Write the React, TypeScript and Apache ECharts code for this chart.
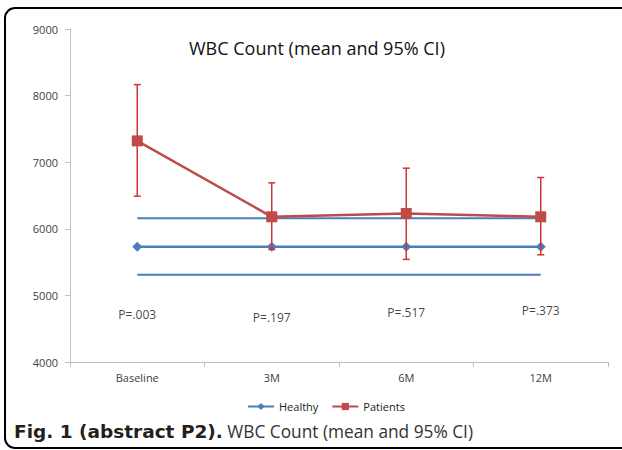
import React, { useEffect, useRef } from "react";
import * as echarts from "echarts";

const categories = ["Baseline", "3M", "6M", "12M"];
const healthyMean = [5730, 5730, 5730, 5730];
const healthyUpper = [6160, 6160, 6160, 6160];
const healthyLower = [5310, 5310, 5310, 5310];
const patientsMean = [7320, 6180, 6230, 6180];
const patientsLow = [6490, 5690, 5540, 5610];
const patientsHigh = [8165, 6690, 6910, 6770];
const pLabels = ["P=.003", "P=.197", "P=.517", "P=.373"];
const pLabelY = [4720, 4675, 4750, 4780];
const yTicks = { min: 4000, max: 9000, interval: 1000 };
const chartTitle = "WBC Count (mean and 95% CI)";
const captionBold = "Fig. 1 (abstract P2).";
const captionText = " WBC Count (mean and 95% CI)";

const BLUE = "#4A7EBB";
const RED = "#BE4B48";
const ERR = "#D03434";
const FONT = "'Open Sans', 'DejaVu Sans', sans-serif";

export default function App() {
  const ref = useRef<HTMLDivElement>(null);
  useEffect(() => {
    if (!ref.current) return;
    const chart = echarts.init(ref.current, null, { renderer: "svg" });
    const errData = categories.map((_, i) => [i, patientsLow[i], patientsHigh[i]]);
    const pData = categories.map((_, i) => [i, pLabelY[i], pLabels[i]]);
    chart.setOption({
      animation: false,
      backgroundColor: "#fff",
      textStyle: { fontFamily: FONT },
      title: {
        text: chartTitle,
        left: 184,
        top: 34,
        textStyle: { fontFamily: FONT, fontSize: 18, fontWeight: "normal", color: "#111" },
      },
      legend: {
        top: 396,
        left: 242,
        itemWidth: 26,
        itemHeight: 9,
        itemGap: 13,
        data: ["Healthy", "Patients"],
        textStyle: { fontFamily: FONT, fontSize: 11, color: "#222" },
      },
      grid: { left: 70, right: 14, top: 29, bottom: 88 },
      xAxis: {
        type: "category",
        data: categories,
        boundaryGap: true,
        axisLine: { lineStyle: { color: "#BFBFBF", width: 1 } },
        axisTick: { show: true, length: 5, lineStyle: { color: "#BFBFBF" } },
        axisLabel: { fontFamily: FONT, fontSize: 11, color: "#404040", margin: 10 },
      },
      yAxis: {
        type: "value",
        min: yTicks.min,
        max: yTicks.max,
        interval: yTicks.interval,
        axisLine: { show: true, lineStyle: { color: "#BFBFBF", width: 1 } },
        axisTick: { show: true, length: 5, lineStyle: { color: "#BFBFBF" } },
        splitLine: { show: false },
        axisLabel: {
          fontFamily: FONT,
          fontSize: 11,
          color: "#404040",
          margin: 12,
          formatter: (v: number) => String(v),
        },
      },
      series: [
        {
          name: "HealthyUpper",
          type: "line",
          data: healthyUpper,
          symbol: "none",
          lineStyle: { color: BLUE, width: 2 },
          itemStyle: { color: BLUE },
          z: 2,
          silent: true,
        },
        {
          name: "HealthyLower",
          type: "line",
          data: healthyLower,
          symbol: "none",
          lineStyle: { color: BLUE, width: 2 },
          itemStyle: { color: BLUE },
          z: 2,
          silent: true,
        },
        {
          name: "Healthy",
          type: "line",
          data: healthyMean,
          symbol: "diamond",
          symbolSize: 10,
          lineStyle: { color: BLUE, width: 2.5 },
          itemStyle: { color: BLUE },
          z: 3,
        },
        {
          name: "ErrorBars",
          type: "custom",
          data: errData,
          z: 4,
          silent: true,
          renderItem: (params: any, api: any) => {
            const i = api.value(0);
            const lo = api.coord([i, api.value(1)]);
            const hi = api.coord([i, api.value(2)]);
            const style = { stroke: ERR, lineWidth: 1.5 };
            const cap = 3.5;
            return {
              type: "group",
              children: [
                { type: "line", shape: { x1: lo[0], y1: lo[1], x2: hi[0], y2: hi[1] }, style },
                { type: "line", shape: { x1: hi[0] - cap, y1: hi[1], x2: hi[0] + cap, y2: hi[1] }, style },
                { type: "line", shape: { x1: lo[0] - cap, y1: lo[1], x2: lo[0] + cap, y2: lo[1] }, style },
              ],
            };
          },
        },
        {
          name: "Patients",
          type: "line",
          data: patientsMean,
          symbol: "rect",
          symbolSize: 11,
          lineStyle: { color: RED, width: 2.5 },
          itemStyle: { color: RED },
          z: 5,
        },
        {
          name: "PValues",
          type: "scatter",
          data: pData,
          symbolSize: 0,
          silent: true,
          label: {
            show: true,
            position: "inside",
            formatter: (p: any) => p.value[2],
            fontFamily: FONT,
            fontSize: 12,
            color: "#111",
          },
        },
      ],
      graphic: [
        {
          type: "rect",
          shape: { x: 5, y: 8, width: 640, height: 440, r: 10 },
          style: { fill: "none", stroke: "#000", lineWidth: 2 },
          z: 100,
          silent: true,
        },
        {
          type: "text",
          left: 14,
          top: 422,
          style: {
            text: "{b|" + captionBold + "}{n|" + captionText + "}",
            rich: {
              b: {
                fontFamily: "'DejaVu Sans', sans-serif",
                fontSize: 18.5,
                fontWeight: "bold",
                fill: "#231F20",
              },
              n: { fontFamily: FONT, fontSize: 17.3, fontWeight: "normal", fill: "#333" },
            },
          },
          z: 100,
        },
      ],
    });
    return () => chart.dispose();
  }, []);
  return (
    <div
      ref={ref}
      style={{ position: "fixed", left: 0, top: 0, width: 622, height: 450 }}
    />
  );
}
